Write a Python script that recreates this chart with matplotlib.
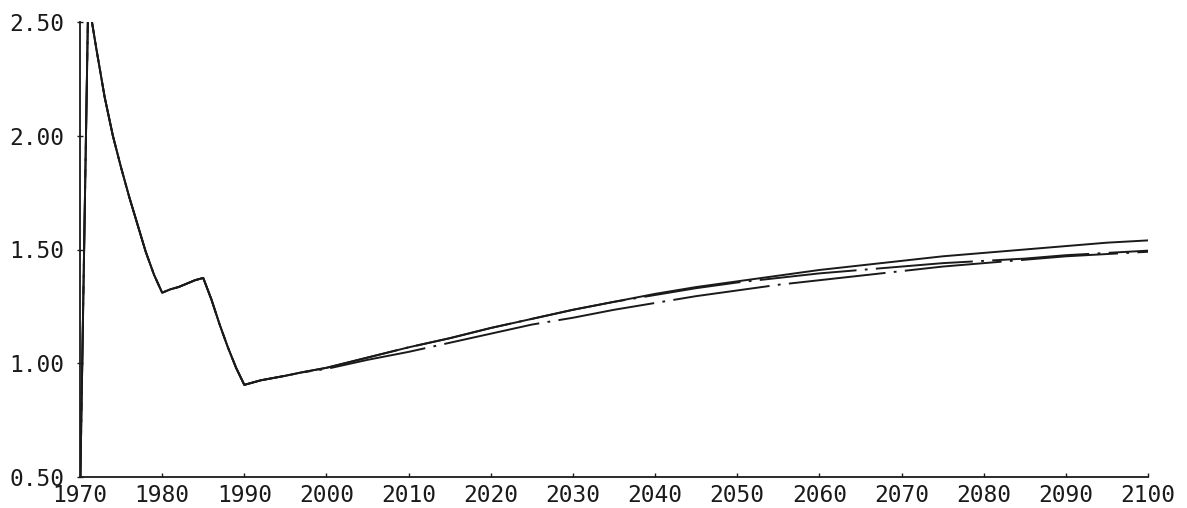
import numpy as np
import matplotlib
matplotlib.use("Agg")
import matplotlib.pyplot as plt

# history, shared by all three runs
hist_years = [1970, 1971, 1972, 1973, 1974, 1975, 1976, 1977, 1978, 1979, 1980,
              1981, 1982, 1983, 1984, 1985, 1986, 1987, 1988, 1989, 1990,
              1992, 1995, 1997]
hist_vals = [0.40, 2.60, 2.38, 2.17, 2.00, 1.86, 1.73, 1.61, 1.49, 1.39, 1.31,
             1.325, 1.335, 1.35, 1.365, 1.375, 1.28, 1.17, 1.07, 0.98, 0.905,
             0.925, 0.945, 0.96]

# projections, 2000-2100 in 5 year steps
proj_years = list(range(2000, 2101, 5))
run_a = [0.98, 1.025, 1.07, 1.11, 1.155, 1.195, 1.235, 1.27, 1.305, 1.335, 1.36,
         1.385, 1.41, 1.43, 1.45, 1.47, 1.485, 1.50, 1.515, 1.53, 1.54]
run_b = [0.98, 1.025, 1.07, 1.11, 1.155, 1.195, 1.235, 1.27, 1.30, 1.33, 1.355,
         1.375, 1.395, 1.41, 1.425, 1.44, 1.45, 1.46, 1.475, 1.485, 1.495]
run_c = [0.975, 1.015, 1.05, 1.09, 1.13, 1.17, 1.20, 1.235, 1.265, 1.295, 1.32,
         1.345, 1.365, 1.385, 1.405, 1.425, 1.44, 1.455, 1.47, 1.48, 1.49]

xticks = list(range(1970, 2101, 10))
yticks = [0.50, 1.00, 1.50, 2.00, 2.50]

plt.rcParams['font.family'] = 'DejaVu Sans Mono'
plt.rcParams['lines.scale_dashes'] = False

fig = plt.figure(figsize=(11.87, 5.08), dpi=100)
ax = fig.add_axes([80 / 1187, 31 / 508, 1068 / 1187, 455 / 508])

ink = '#1a1a1a'
years = hist_years + proj_years
ax.plot(years, hist_vals + run_a, color=ink, lw=1.4)
ax.plot(years, hist_vals + run_b, color=ink, lw=1.4,
        linestyle=(20, (70, 6, 2, 6)))
ax.plot(years, hist_vals + run_c, color=ink, lw=1.4,
        linestyle=(0, (70, 6, 2, 6)))

ax.set_xlim(1970, 2100)
ax.set_ylim(0.5, 2.5)
ax.set_xticks(xticks)
ax.set_yticks(yticks)
ax.set_yticklabels(['%.2f' % v for v in yticks])
ax.spines['top'].set_visible(False)
ax.spines['right'].set_visible(False)
for s in ['left', 'bottom']:
    ax.spines[s].set_linewidth(1.3)
    ax.spines[s].set_color(ink)
ax.tick_params(axis='y', direction='inout', length=5, width=1, pad=9,
               labelsize=16.5, colors=ink)
ax.tick_params(axis='x', direction='in', length=3, width=1, pad=5,
               labelsize=16.5, colors=ink)

fig.savefig('out.png', dpi=100)
